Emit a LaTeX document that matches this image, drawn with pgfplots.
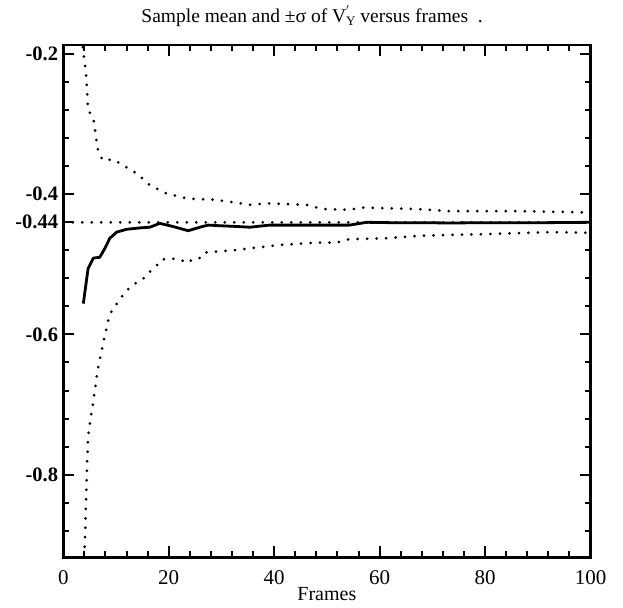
\documentclass[border=0pt]{standalone}
\usepackage{fontspec}
\setmainfont{Liberation Serif}
\usepackage{pgfplots}
\pgfplotsset{compat=1.18}
\begin{document}
\begin{tikzpicture}
\useasboundingbox (-63.3bp,-50.7bp) rectangle (559.7bp,557.3bp);
\begin{axis}[
  scale only axis,
  width=527.2bp, height=512.3bp,
  xmin=0, xmax=100, ymin=-0.918, ymax=-0.187,
  xtick={0,20,40,60,80,100},
  minor xtick={4,8,12,16,24,28,32,36,44,48,52,56,64,68,72,76,84,88,92,96},
  ytick={-0.8,-0.6,-0.44,-0.4,-0.2},
  yticklabels={-0.8,-0.6,-0.44,-0.4,-0.2},
  minor ytick={-0.88,-0.84,-0.76,-0.72,-0.68,-0.64,-0.56,-0.52,-0.48,-0.36,-0.32,-0.28,-0.24},
  tick align=inside,
  tick pos=both,
  major tick length=11bp, minor tick length=6bp,
  every tick/.style={black, line width=2bp},
  axis line style={line width=2.8bp},
  /pgf/number format/assume math mode=true,
  xticklabel style={anchor=north, inner sep=0pt, yshift=-13bp, font=\fontsize{21bp}{24bp}\selectfont},
  yticklabel style={anchor=east, inner sep=0pt, xshift=-5bp, font=\fontsize{20.5bp}{24bp}\selectfont\bfseries},
  title={Sample mean and ±σ of V\rlap{\raisebox{7bp}{\fontsize{13bp}{13bp}\selectfont$'$}}\raisebox{-3bp}{\fontsize{13bp}{13bp}\selectfont Y} versus frames\ \ .},
  title style={at={(0.472,1)}, anchor=base, yshift=17bp, inner sep=0pt, font=\fontsize{19.5bp}{22bp}\selectfont},
  xlabel={Frames},
  xlabel style={at={(0.5,0)}, anchor=base, yshift=-43bp, inner sep=0pt, font=\fontsize{20bp}{23bp}\selectfont},
  dotstyle/.style={black, line width=3bp, line cap=round, dash pattern=on 0bp off 9.5bp},
]
\addplot[dotstyle] coordinates {(0,-0.44) (100,-0.44)};
\addplot[black, line width=2.8bp, line join=round] coordinates {
(3.8,-0.556) (4.7,-0.506) (5.7,-0.491) (6.9,-0.490) (7.9,-0.477) (8.8,-0.463)
(10.1,-0.454) (12,-0.450) (14.5,-0.448) (16.4,-0.447) (18.3,-0.4415) (20.8,-0.446)
(23.7,-0.452) (25.9,-0.447) (27.5,-0.444) (30,-0.445) (33,-0.446) (35.4,-0.447)
(39.1,-0.444) (45,-0.444) (50,-0.444) (54.3,-0.444) (57.5,-0.440) (62,-0.4405)
(68,-0.4405) (73.2,-0.441) (80,-0.4405) (86,-0.4405) (92,-0.4405) (100,-0.440)};
\addplot[dotstyle] coordinates {
(3.7,-0.19) (4.3,-0.227) (4.5,-0.251) (4.7,-0.280) (5.7,-0.291) (6.2,-0.318)
(6.4,-0.332) (6.9,-0.344) (7.6,-0.352) (9.5,-0.350) (10.7,-0.356) (13.9,-0.370)
(16.4,-0.387) (19.6,-0.399) (23.4,-0.406) (29,-0.408) (35.4,-0.415) (38.5,-0.413)
(46.1,-0.415) (49.2,-0.421) (54.3,-0.422) (56.8,-0.419) (66.9,-0.421) (73.2,-0.424)
(85.9,-0.424) (100,-0.426)};
\addplot[dotstyle] coordinates {
(3.85,-0.93) (4.1,-0.894) (4.3,-0.837) (4.5,-0.789) (4.7,-0.746) (5.2,-0.718)
(5.6,-0.701) (6.5,-0.651) (7.6,-0.611) (8.8,-0.571) (9.8,-0.561) (10.7,-0.549)
(11.7,-0.541) (12.8,-0.531) (14.8,-0.522) (15.8,-0.517) (16.7,-0.508) (17.8,-0.501)
(18.6,-0.493) (20.8,-0.492) (22.7,-0.495) (23.7,-0.498) (24.6,-0.492) (25.9,-0.491)
(26.8,-0.483) (32.2,-0.480) (37.9,-0.475) (41.7,-0.472) (48,-0.469) (51.8,-0.469)
(54.3,-0.464) (60.6,-0.463) (68.2,-0.459) (79.5,-0.457) (92.2,-0.454) (100,-0.455)};
\end{axis}
\end{tikzpicture}
\end{document}
